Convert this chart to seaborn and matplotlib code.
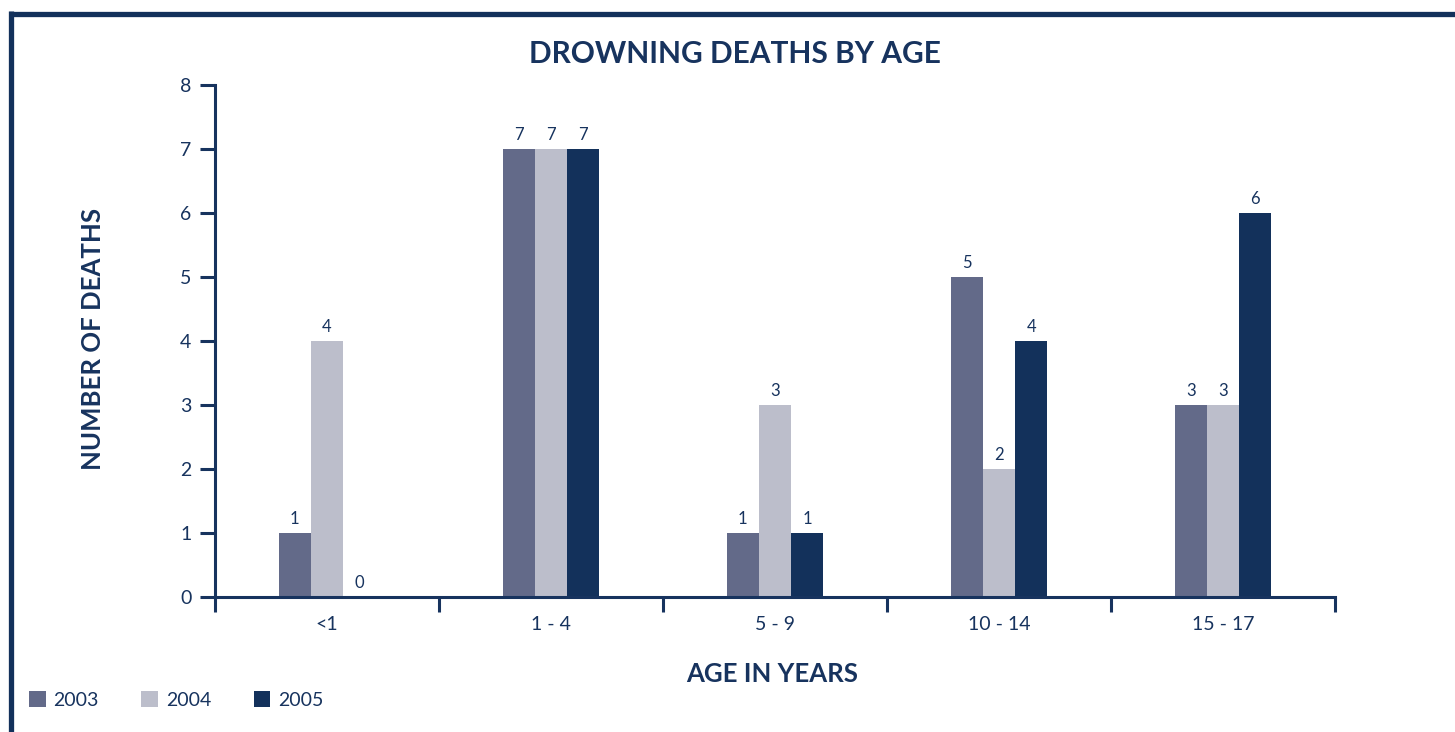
import pandas as pd
import matplotlib.pyplot as plt
import seaborn as sns
from matplotlib.lines import Line2D

# data
ages = ["<1", "1 - 4", "5 - 9", "10 - 14", "15 - 17"]
years = ["2003", "2004", "2005"]
deaths_2003 = [1, 7, 1, 5, 3]
deaths_2004 = [4, 7, 3, 2, 3]
deaths_2005 = [0, 7, 1, 4, 6]

colors = ["#636a89", "#bcbecb", "#13315b"]
navy = "#17335e"

df = pd.DataFrame({
    "age": ages * 3,
    "year": [y for y in years for _ in ages],
    "deaths": deaths_2003 + deaths_2004 + deaths_2005,
})

sns.set_theme(style="white")
plt.rcParams["font.family"] = ["Lato", "DejaVu Sans"]

fig = plt.figure(figsize=(14.55, 7.32), dpi=100)
ax = fig.add_axes([215 / 1455, 1 - 597 / 732, 1120 / 1455, 512 / 732])

sns.barplot(data=df, x="age", y="deaths", hue="year", palette=colors,
            width=0.43, gap=0, saturation=1, linewidth=0, ax=ax)

for c in ax.containers:
    ax.bar_label(c, fmt="%d", padding=4, fontsize=12, color=navy)

handles, labels = ax.get_legend_handles_labels()
ax.get_legend().remove()

ax.set_xlim(-0.5, 4.5)
ax.set_ylim(0, 8)
ax.set_yticks(range(0, 9))
ax.set_xlabel("")
ax.set_ylabel("")

for s in ["top", "right"]:
    ax.spines[s].set_visible(False)
for s in ["left", "bottom"]:
    ax.spines[s].set_color(navy)
    ax.spines[s].set_linewidth(2.2)

ax.tick_params(axis="y", length=11, width=2.2, color=navy, labelcolor=navy,
               labelsize=14, pad=6, left=True)
ax.tick_params(axis="x", which="major", length=0, labelcolor=navy,
               labelsize=14, pad=14)
ax.set_xticks([i - 0.5 for i in range(len(ages) + 1)], minor=True)
ax.tick_params(axis="x", which="minor", length=11, width=2.2, color=navy,
               direction="out", bottom=True)

fig.text(735 / 1455, 1 - 54 / 732, "DROWNING DEATHS BY AGE", ha="center",
         va="center", fontsize=21.5, fontweight="bold", color=navy)
fig.text(772 / 1455, 1 - 674 / 732, "AGE IN YEARS", ha="center",
         va="center", fontsize=18.5, fontweight="bold", color=navy)
fig.text(93 / 1455, 1 - 339 / 732, "NUMBER OF DEATHS", ha="center",
         va="center", rotation=90, fontsize=18.5, fontweight="bold", color=navy)

fig.legend(handles, labels, loc="center left",
           bbox_to_anchor=(29 / 1455, 1 - 700 / 732), ncol=3, frameon=False,
           borderpad=0, borderaxespad=0, handlelength=0.85, handleheight=0.85,
           handletextpad=0.4, columnspacing=2.2, fontsize=14, labelcolor=navy)

# frame lines at top and left
fig.add_artist(Line2D([8.5 / 1455, 1], [1 - 13.5 / 732] * 2, color="#13315b",
                      lw=3.8, transform=fig.transFigure, solid_capstyle="butt"))
fig.add_artist(Line2D([10.5 / 1455] * 2, [0, 1 - 11 / 732], color="#13315b",
                      lw=3.8, transform=fig.transFigure, solid_capstyle="butt"))

fig.savefig("out.png", dpi=100)
